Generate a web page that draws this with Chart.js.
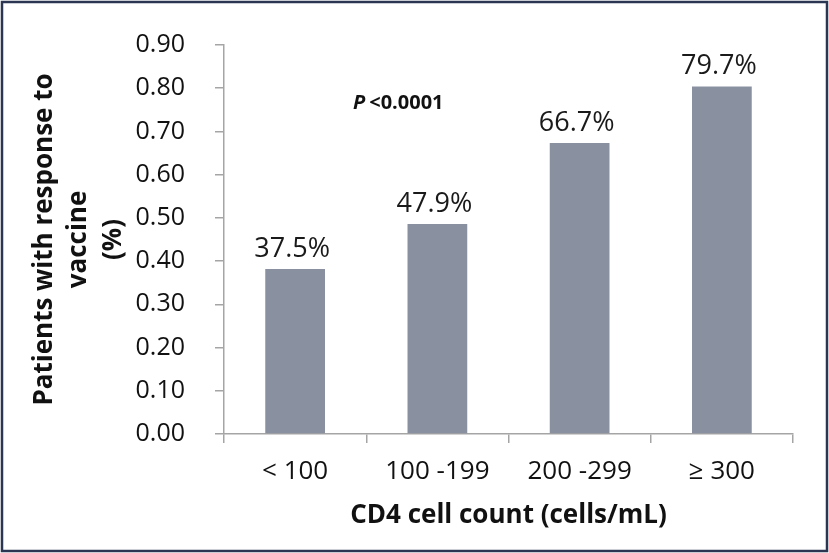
<!DOCTYPE html>
<html>
<head>
<meta charset="utf-8">
<script src="https://cdn.jsdelivr.net/npm/chart.js@4/dist/chart.umd.min.js"></script>
<style>
  html, body { margin: 0; padding: 0; background: #ffffff; }
  #wrap { position: relative; width: 829px; height: 553px; }
</style>
</head>
<body>
<div id="wrap"><canvas id="c" width="829" height="553"></canvas></div>
<script>
// ---- data ----
const categories = ['< 100', '100 -199', '200 -299', '\u2265 300'];
const responseRate = [0.382, 0.486, 0.673, 0.804];
const valueLabels = ['37.5%', '47.9%', '66.7%', '79.7%'];
const yTickValues = [0, 0.1, 0.2, 0.3, 0.4, 0.5, 0.6, 0.7, 0.8, 0.9];
const xTitle = 'CD4 cell count (cells/mL)';
const yTitle = ['Patients with response to', 'vaccine', '(%)'];
const pText = ['P', '<0.0001'];

const FONT = "'Open Sans', 'Noto Sans', sans-serif";
const AXIS_COLOR = '#a5a5a5';
const BAR_COLOR = '#8991a1';

const frame = {
  id: 'frame',
  beforeDraw(chart) {
    const ctx = chart.ctx;
    ctx.save();
    ctx.fillStyle = '#ffffff';
    ctx.fillRect(0, 0, chart.width, chart.height);
    ctx.restore();
  },
  afterDraw(chart) {
    const ctx = chart.ctx;
    ctx.save();
    ctx.strokeStyle = '#2b3752';
    ctx.lineWidth = 2.5;
    ctx.strokeRect(2, 2, chart.width - 4, chart.height - 4);
    ctx.restore();
  }
};

const valueLabelPlugin = {
  id: 'valueLabels',
  afterDatasetsDraw(chart) {
    const ctx = chart.ctx;
    const meta = chart.getDatasetMeta(0);
    ctx.save();
    ctx.font = "27px " + FONT;
    ctx.fillStyle = '#1a1a1a';
    ctx.textAlign = 'center';
    ctx.textBaseline = 'alphabetic';
    meta.data.forEach((bar, i) => {
      ctx.fillText(valueLabels[i], bar.x - 3, bar.y - 12);
    });
    ctx.restore();
  }
};

const pPlugin = {
  id: 'pValue',
  afterDraw(chart) {
    const ctx = chart.ctx;
    const xs = chart.scales.x, ys = chart.scales.y;
    const x0 = xs.left + 129;
    const y0 = ys.getPixelForValue(0.753);
    ctx.save();
    ctx.fillStyle = '#111111';
    ctx.textBaseline = 'alphabetic';
    ctx.textAlign = 'left';
    ctx.font = "italic bold 20px " + FONT;
    ctx.fillText(pText[0], x0, y0);
    const w = ctx.measureText(pText[0]).width;
    ctx.font = "bold 20px " + FONT;
    ctx.fillText(pText[1], x0 + w + 4, y0);
    ctx.restore();
  }
};

new Chart(document.getElementById('c'), {
  type: 'bar',
  data: {
    labels: categories,
    datasets: [{
      data: responseRate,
      backgroundColor: BAR_COLOR,
      borderWidth: 0,
      barPercentage: 0.42,
      categoryPercentage: 1.0
    }]
  },
  options: {
    responsive: false,
    animation: false,
    devicePixelRatio: 1,
    layout: { padding: { top: 41, right: 36, bottom: 0, left: 0 } },
    plugins: {
      legend: { display: false },
      tooltip: { enabled: false }
    },
    scales: {
      x: {
        grid: {
          display: true,
          offset: true,
          drawOnChartArea: false,
          drawTicks: true,
          tickLength: 9,
          color: AXIS_COLOR,
          lineWidth: 1.5
        },
        border: { display: true, color: AXIS_COLOR, width: 1.5 },
        ticks: {
          color: '#111111',
          font: { family: FONT, size: 26 },
          padding: 13,
          maxRotation: 0
        },
        title: {
          display: true,
          text: xTitle,
          color: '#111111',
          font: { family: FONT, size: 26, weight: 'bold' },
          padding: { top: 0, bottom: 22 }
        },
        afterFit(scale) { scale.height = 119; }
      },
      y: {
        min: 0,
        max: 0.9,
        afterBuildTicks(scale) { scale.ticks = yTickValues.map(v => ({ value: v })); },
        grid: {
          display: true,
          drawOnChartArea: false,
          drawTicks: true,
          tickLength: 9,
          color: AXIS_COLOR,
          lineWidth: 1.5
        },
        border: { display: true, color: AXIS_COLOR, width: 1.5 },
        ticks: {
          color: '#111111',
          font: { family: FONT, size: 25 },
          padding: 30,
          callback: (v) => Number(v).toFixed(2)
        },
        title: {
          display: true,
          text: yTitle,
          color: '#111111',
          font: { family: FONT, size: 26, weight: 'bold', lineHeight: '34.5px' },
          padding: { top: 27, bottom: 0 }
        },
        afterFit(scale) { scale.width = 224; }
      }
    }
  },
  plugins: [frame, valueLabelPlugin, pPlugin]
});
</script>
</body>
</html>
